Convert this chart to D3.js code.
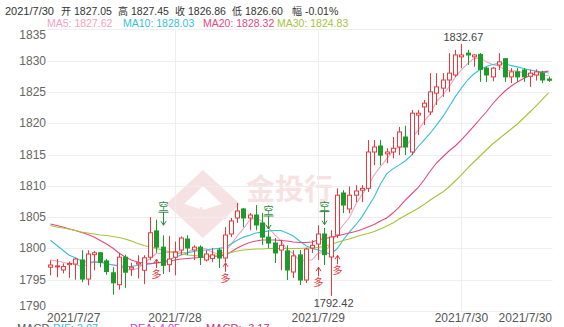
<!DOCTYPE html>
<html>
<head>
<meta charset="utf-8">
<script src="https://cdn.jsdelivr.net/npm/d3@7"></script>
<style>
  body { margin: 0; background: #fff; }
  svg { display: block; font-family: "Liberation Sans", Arial, "Noto Sans CJK SC", sans-serif; }
</style>
</head>
<body>
<svg id="chart" width="564" height="327"></svg>
<script>
// hourly gold candles, 2021/7/27 - 2021/7/30
const opens = [1797.0, 1797.1, 1796.55, 1797.4, 1797.5, 1798.15, 1795.1, 1799.0, 1799.3, 1798.0, 1796.1, 1794.2, 1798.6, 1796.7, 1797.5, 1796.5, 1798.6, 1802.8, 1800.2, 1797.4, 1798.6,
  1799.74, 1801.5, 1799.74, 1800.2, 1798.15, 1798.4, 1799.74, 1798.47, 1802.3, 1804.86, 1806.3, 1804.86, 1805.33, 1804.06, 1801.8, 1800.86, 1799.74, 1799.6, 1796.23, 1798.95, 1794.95, 1800.06, 1800.7, 1802.3, 1798.63,
  1802.14, 1808.85, 1806.3, 1808.5, 1809.3, 1809.6, 1815.4, 1816.36, 1815.1, 1815.4, 1816.2, 1817.8, 1815.4, 1821.3, 1822.6, 1821.8, 1824.8, 1825.6, 1826.9, 1827.7,
  1830.6, 1831.2, 1830.6, 1831.0, 1828.8, 1827.4, 1829.3, 1830.3, 1827.4, 1828.2, 1828.5, 1827.5, 1827.7, 1828.0, 1827.05];
const closes = [1797.35, 1797.2, 1797.1, 1797.6, 1798.3, 1795.1, 1799.1, 1799.3, 1797.8, 1796.3, 1794.5, 1798.6, 1796.2, 1797.0, 1797.7, 1798.5, 1802.5, 1800.2, 1797.3, 1798.3, 1799.4,
  1801.66, 1800.06, 1800.2, 1798.6, 1799.1, 1798.95, 1798.47, 1802.14, 1804.38, 1805.97, 1804.86, 1805.33, 1803.74, 1801.8, 1800.86, 1799.27, 1800.5, 1796.55, 1798.8, 1794.95, 1799.9, 1800.5, 1802.3, 1799.0, 1801.82,
  1808.5, 1806.93, 1808.5, 1809.17, 1809.6, 1815.4, 1816.2, 1814.9, 1815.4, 1816.0, 1818.6, 1816.2, 1821.6, 1821.6, 1823.2, 1825.0, 1825.8, 1826.9, 1828.0, 1830.9,
  1830.9, 1830.9, 1830.9, 1828.6, 1827.7, 1828.8, 1829.8, 1827.4, 1828.2, 1827.4, 1827.4, 1828.0, 1828.2, 1826.9, 1826.86];
const highs = [1798.1, 1798.3, 1797.6, 1797.9, 1798.5, 1799.7, 1799.7, 1799.6, 1799.4, 1798.3, 1797.0, 1799.3, 1799.0, 1797.7, 1798.9, 1798.9, 1805.0, 1804.6, 1802.1, 1802.0, 1801.1,
  1801.9, 1802.1, 1800.5, 1800.5, 1799.7, 1800.1, 1800.06, 1803.4, 1804.86, 1807.25, 1806.45, 1805.65, 1806.93, 1805.65, 1802.9, 1801.66, 1801.4, 1800.5, 1799.7, 1799.74, 1800.06, 1801.3, 1803.7, 1803.26, 1802.9,
  1809.6, 1809.3, 1809.9, 1810.1, 1810.1, 1817.3, 1817.3, 1817.3, 1816.0, 1817.8, 1819.4, 1819.6, 1822.1, 1822.1, 1823.7, 1828.0, 1828.0, 1828.0, 1831.2, 1831.7,
  1832.67, 1831.7, 1831.0, 1831.2, 1829.0, 1829.0, 1831.2, 1830.4, 1828.8, 1828.8, 1828.8, 1828.6, 1828.6, 1828.4, 1827.45];
const lows = [1795.7, 1795.4, 1796.0, 1795.3, 1795.0, 1794.6, 1794.1, 1796.5, 1797.0, 1795.8, 1792.6, 1793.4, 1793.7, 1795.6, 1795.2, 1794.3, 1798.1, 1799.3, 1795.9, 1796.2, 1795.7,
  1798.95, 1798.95, 1798.15, 1797.35, 1797.9, 1797.8, 1796.87, 1797.8, 1801.8, 1804.06, 1803.4, 1802.9, 1802.9, 1800.54, 1800.06, 1797.67, 1796.5, 1794.95, 1795.27, 1794.15, 1794.47, 1799.27, 1798.15, 1797.35, 1792.42,
  1801.66, 1805.65, 1805.6, 1807.4, 1807.4, 1809.0, 1813.3, 1813.3, 1813.6, 1814.4, 1814.9, 1814.9, 1814.9, 1818.1, 1819.7, 1821.3, 1822.9, 1824.2, 1825.0, 1827.4,
  1828.8, 1829.3, 1829.0, 1826.6, 1826.6, 1826.7, 1828.5, 1826.6, 1826.4, 1826.6, 1826.6, 1825.8, 1826.8, 1826.4, 1826.60];

const ma5 = [1798.15, 1798.0, 1797.8, 1797.6, 1797.5, 1797.06, 1797.44, 1797.88, 1797.92, 1797.52, 1797.4, 1797.3, 1796.68, 1796.52, 1796.8, 1797.6, 1798.38, 1799.18, 1799.24, 1799.36, 1799.54,
  1799.37, 1799.34, 1799.92, 1799.98, 1799.92, 1799.38, 1799.06, 1799.45, 1800.61, 1801.98, 1803.16, 1804.54, 1804.86, 1804.34, 1803.32, 1802.2, 1801.23, 1799.8, 1799.2, 1798.01, 1798.14, 1798.14, 1799.29, 1799.32, 1800.69,
  1802.41, 1803.7, 1804.94, 1806.98, 1808.54, 1809.92, 1811.77, 1813.05, 1814.3, 1815.58, 1816.22, 1816.22, 1817.56, 1818.8, 1820.24, 1821.52, 1823.44, 1824.5, 1825.78, 1827.32,
  1828.5, 1829.52, 1830.32, 1830.44, 1829.8, 1829.38, 1829.16, 1828.46, 1828.38, 1828.32, 1828.04, 1827.68, 1827.84, 1827.58, 1827.62];
const ma10 = [1801.3, 1800.5, 1799.7, 1798.9, 1798.5, 1798.0, 1797.8, 1797.8, 1797.75, 1797.6, 1797.35, 1797.2, 1797.1, 1797.1, 1797.3, 1797.35, 1797.5, 1797.7, 1797.8, 1798.15, 1798.6,
  1798.95, 1799.27, 1799.5, 1799.66, 1799.74, 1799.9, 1800.0, 1800.14, 1800.7, 1801.3, 1801.8, 1802.1, 1802.46, 1802.6, 1802.78, 1802.86, 1802.86, 1802.46, 1801.98, 1801.18, 1800.46, 1799.98, 1799.74, 1799.42, 1799.1,
  1799.9, 1801.3, 1802.6, 1803.7, 1805.0, 1806.6, 1808.2, 1810.3, 1811.9, 1812.7, 1813.3, 1814.0, 1814.9, 1816.2, 1817.3, 1818.4, 1819.7, 1821.0, 1822.6, 1824.2,
  1825.6, 1826.9, 1827.86, 1828.58, 1829.06, 1829.38, 1829.54, 1829.46, 1829.2, 1829.0, 1828.74, 1828.5, 1828.34, 1828.18, 1828.03];
const ma20 = [1803.9, 1803.66, 1803.42, 1803.1, 1802.86, 1802.54, 1802.22, 1801.82, 1801.26, 1800.7, 1800.06, 1799.27, 1798.63, 1798.15, 1797.83, 1797.67, 1797.59, 1797.67, 1797.75, 1797.91, 1798.15,
  1798.31, 1798.39, 1798.47, 1798.55, 1798.63, 1798.7, 1798.79, 1798.95, 1799.42, 1800.06, 1800.54, 1800.94, 1801.18, 1801.34, 1801.34, 1801.34, 1801.26, 1801.18, 1801.02, 1800.94, 1800.94, 1801.02, 1801.34, 1801.58, 1801.74,
  1801.98, 1802.22, 1802.46, 1802.7, 1803.02, 1803.42, 1803.82, 1804.38, 1804.86, 1805.65, 1806.61, 1807.73, 1808.69, 1809.65, 1810.93, 1812.36, 1813.64, 1814.6, 1815.56, 1816.36,
  1817.32, 1818.43, 1819.55, 1820.67, 1821.79, 1823.07, 1824.18, 1825.14, 1825.94, 1826.58, 1827.14, 1827.62, 1827.95, 1828.18, 1828.32];
const ma30 = [1803.66, 1803.42, 1803.26, 1803.1, 1802.86, 1802.62, 1802.46, 1802.3, 1802.14, 1802.06, 1801.9, 1801.74, 1801.5, 1801.18, 1800.78, 1800.46, 1800.22, 1799.98, 1799.74, 1799.5, 1799.27,
  1799.1, 1798.95, 1798.87, 1798.79, 1798.79, 1798.87, 1798.95, 1799.1, 1799.35, 1799.58, 1799.74, 1799.82, 1799.9, 1799.9, 1799.98, 1799.98, 1799.98, 1799.98, 1799.98, 1799.98, 1800.06, 1800.06, 1800.14, 1800.3, 1800.62,
  1800.94, 1801.26, 1801.5, 1801.82, 1802.14, 1802.38, 1802.7, 1803.1, 1803.58, 1804.06, 1804.7, 1805.26, 1805.81, 1806.37, 1807.0, 1807.73, 1808.37, 1809.0, 1809.81, 1810.77,
  1811.73, 1812.84, 1813.8, 1814.76, 1815.72, 1816.68, 1817.48, 1818.27, 1819.07, 1819.87, 1820.83, 1821.79, 1822.75, 1823.79, 1824.83];

const dayLabels = ["2021/7/27", "2021/7/28", "2021/7/29", "2021/7/30", "2021/7/30"];
const dayLabelIndex = [0, 20, 43, 66, 80];
const yTicks = [1790, 1795, 1800, 1805, 1810, 1815, 1820, 1825, 1830, 1835];

// buy / sell signal marks: index, type, price where the arrow points
const signals = [
  { i: 17, type: "多", price: 1798.3 },
  { i: 18, type: "空", price: 1803.7 },
  { i: 28, type: "多", price: 1797.7 },
  { i: 35, type: "空", price: 1803.1 },
  { i: 43, type: "多", price: 1797.0 },
  { i: 44, type: "空", price: 1803.8 },
  { i: 46, type: "多", price: 1798.9 }
];

const headerParts = ["2021/7/30", "开", "1827.05", "高", "1827.45", "收", "1826.86", "低", "1826.60", "幅", "-0.01%"];
const maNames = ["MA5", "MA10", "MA20", "MA30"];
const maColors = ["#f4a2bb", "#35c1d8", "#e9477c", "#a7c23b"];
const macdNames = ["MACD", "DIF: 2.07", "DEA: 4.05", "MACD: -3.17"];

const upColor = "#e8383d", downColor = "#1c9a2a";

const svg = d3.select("#chart");
const plotLeft = 46.4, plotRight = 552.6, plotTop = 29.3, plotBottom = 311;

const x = d3.scaleBand()
    .domain(d3.range(closes.length))
    .range([plotLeft, plotRight])
    .padding(0.3);
const cx = i => x(i) + x.bandwidth() / 2;

const y = d3.scaleLinear()
    .domain([1790, 1835])
    .range([plotBottom, plotTop]);

// watermark
const wm = svg.append("g").attr("opacity", 0.13);
wm.append("path")
    .attr("d", "M203,170 L240,204 L203,238 L166,204 Z")
    .attr("fill", "#c0282e");
wm.append("path")
    .attr("d", "M203,186 L222,204 L203,210 L184,204 Z")
    .attr("fill", "#fff");
wm.append("text")
    .attr("x", 246).attr("y", 200)
    .style("font-size", "29px").style("font-weight", "bold")
    .style("font-family", "Noto Sans CJK SC")
    .attr("fill", "#c0282e")
    .text("金投行");
wm.append("text")
    .attr("x", 196).attr("y", 219)
    .style("font-size", "16px")
    .attr("fill", "#c0282e")
    .text("Au            e.cn");

// grid
svg.append("g")
    .selectAll("line")
    .data(yTicks)
    .join("line")
    .attr("x1", plotLeft + 1).attr("x2", plotRight)
    .attr("y1", d => Math.round(y(d)) + 0.5)
    .attr("y2", d => Math.round(y(d)) + 0.5)
    .attr("stroke", "#eeeeee");

svg.append("g")
    .selectAll("line")
    .data(dayLabelIndex.slice(1, 4))
    .join("line")
    .attr("x1", d => Math.round(cx(d)) + 0.5)
    .attr("x2", d => Math.round(cx(d)) + 0.5)
    .attr("y1", plotTop).attr("y2", plotBottom)
    .attr("stroke", "#eeeeee");

// y axis labels
svg.append("g")
    .selectAll("text")
    .data(yTicks)
    .join("text")
    .attr("x", 46)
    .attr("y", d => d === 1835 ? y(d) + 10 : d === 1790 ? y(d) - 1 : y(d) + 4)
    .attr("text-anchor", "end")
    .style("font-size", "12px")
    .attr("fill", "#666")
    .text(d => d);

// x axis labels
svg.append("g")
    .selectAll("text")
    .data(dayLabels)
    .join("text")
    .attr("x", (d, k) => k === 0 ? 47 : k === dayLabels.length - 1 ? 552 : cx(dayLabelIndex[k]))
    .attr("y", 322)
    .attr("text-anchor", (d, k) => k === 0 ? "start" : k === dayLabels.length - 1 ? "end" : "middle")
    .style("font-size", "12px")
    .attr("fill", "#555")
    .text(d => d);

// moving averages
const maSeries = [ma5, ma10, ma20, ma30];
maSeries.forEach((s, k) => {
  svg.append("path")
      .datum(s)
      .attr("fill", "none")
      .attr("stroke", maColors[k])
      .attr("stroke-width", 1.1)
      .attr("d", d3.line().x((d, i) => cx(i)).y(d => y(d)));
});

// candles
const candles = svg.append("g")
    .selectAll("g")
    .data(d3.range(closes.length))
    .join("g");

candles.append("line")
    .attr("x1", i => Math.round(cx(i)) + 0.5)
    .attr("x2", i => Math.round(cx(i)) + 0.5)
    .attr("y1", i => y(highs[i]))
    .attr("y2", i => y(lows[i]))
    .attr("stroke", i => closes[i] >= opens[i] ? upColor : downColor);

candles.append("rect")
    .attr("x", i => Math.round(cx(i)) - 1.5)
    .attr("width", 4)
    .attr("y", i => y(Math.max(opens[i], closes[i])))
    .attr("height", i => Math.max(1, Math.abs(y(opens[i]) - y(closes[i]))))
    .attr("fill", i => closes[i] >= opens[i] ? "#fff" : downColor)
    .attr("stroke", i => closes[i] >= opens[i] ? upColor : downColor);

// signal marks
const sig = svg.append("g")
    .selectAll("g")
    .data(signals)
    .join("g")
    .attr("transform", d => `translate(${Math.round(cx(d.i)) + 0.5},${y(d.price)})`);

sig.each(function(d) {
  const g = d3.select(this);
  const c = d.type === "空" ? "#2b8a3e" : "#e8383d";
  if (d.type === "空") {
    g.append("line").attr("x1", 0).attr("x2", 0).attr("y1", -13).attr("y2", 0).attr("stroke", c);
    g.append("path").attr("d", "M-2.5,-4 L0,0 L2.5,-4").attr("fill", "none").attr("stroke", c);
    g.append("text").attr("y", -15).attr("text-anchor", "middle")
        .style("font-size", "10px").style("font-family", "Noto Sans CJK SC")
        .attr("fill", c).text(d.type);
    g.append("line").attr("x1", -5).attr("x2", 5).attr("y1", -13).attr("y2", -13).attr("stroke", c);
  } else {
    g.append("line").attr("x1", 0).attr("x2", 0).attr("y1", 0).attr("y2", 9).attr("stroke", c);
    g.append("path").attr("d", "M-2.5,4 L0,0 L2.5,4").attr("fill", "none").attr("stroke", c);
    g.append("text").attr("y", 19).attr("text-anchor", "middle")
        .style("font-size", "10px").style("font-family", "Noto Sans CJK SC")
        .attr("fill", c).text(d.type);
  }
});

// extreme value labels
const iMax = d3.maxIndex(highs), iMin = d3.minIndex(lows);
svg.append("text")
    .attr("x", cx(iMax) + 2).attr("y", y(highs[iMax]) - 3)
    .attr("text-anchor", "middle")
    .style("font-size", "11px").attr("fill", "#444")
    .text(highs[iMax].toFixed(2));
svg.append("text")
    .attr("x", cx(iMin) + 3).attr("y", y(lows[iMin]) + 11)
    .attr("text-anchor", "middle")
    .style("font-size", "11px").attr("fill", "#444")
    .text(lows[iMin].toFixed(2));

// header line
const headerX = [5, 61, 74, 118, 131, 175, 188, 232, 245, 292, 305];
svg.append("g")
    .selectAll("text")
    .data(headerParts)
    .join("text")
    .attr("x", (d, k) => headerX[k]).attr("y", 15)
    .style("font-size", (d, k) => k === 0 ? "11px" : k % 2 === 1 ? "10px" : "10.5px")
    .style("font-family", (d, k) => k % 2 === 1 ? "Noto Sans CJK SC" : null)
    .attr("fill", "#333")
    .text(d => d);

const maLast = [ma5, ma10, ma20, ma30].map(s => s[s.length - 1]);
const maX = [47, 123, 203, 277];
svg.append("g")
    .selectAll("text")
    .data(maNames)
    .join("text")
    .attr("x", (d, k) => maX[k]).attr("y", 27)
    .style("font-size", "10.5px")
    .attr("fill", (d, k) => maColors[k])
    .text((d, k) => `${d}: ${maLast[k].toFixed(2)}`);

// MACD sub title, cut by the bottom edge as in the source
const macdX = [17, 53, 130, 206];
const macdColors = ["#555", "#35c1d8", "#d43bc4", "#c2357a"];
svg.append("g")
    .selectAll("text")
    .data(macdNames)
    .join("text")
    .attr("x", (d, k) => macdX[k]).attr("y", 332)
    .style("font-size", "11px")
    .attr("fill", (d, k) => macdColors[k])
    .text(d => d);
</script>
</body>
</html>
